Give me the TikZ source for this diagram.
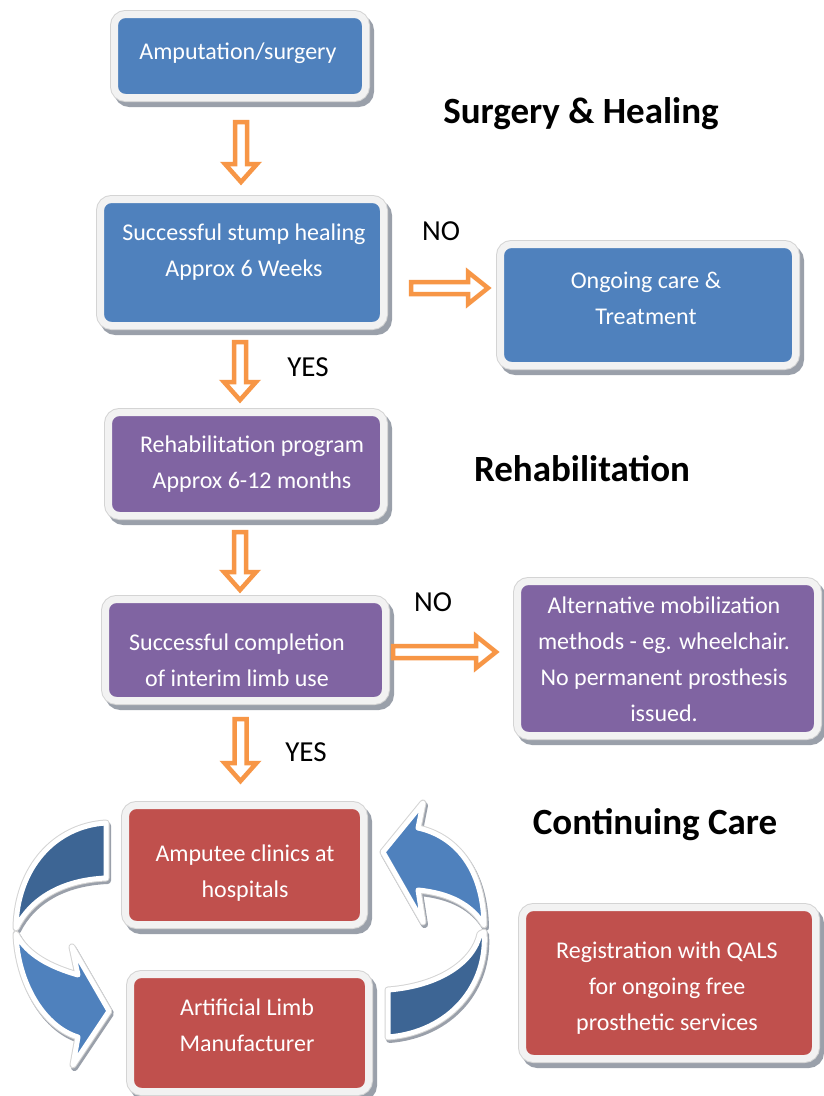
\documentclass[tikz,border=0pt]{standalone}
\usepackage{fontspec}
\setmainfont{Carlito}
\usetikzlibrary{calc,shadows}
\definecolor{cblue}{HTML}{4F81BD}
\definecolor{cpurple}{HTML}{8064A2}
\definecolor{cred}{HTML}{C0504D}
\definecolor{corange}{HTML}{F79646}
\definecolor{cdark}{HTML}{3D6594}
\definecolor{rim}{HTML}{F2F2F2}
\definecolor{rimline}{HTML}{D4D4D4}
\definecolor{shade}{HTML}{9AA0AA}
\tikzset{
  box/.style={rectangle, rounded corners=11pt, draw=rim, line width=7pt, inner sep=0pt,
    preaction={draw=shade, fill=shade, line width=9pt, transform canvas={xshift=4pt,yshift=-5pt}},
    preaction={draw=rimline, line width=9pt}},
  txt/.style={text=white, font=\fontsize{24}{36}\selectfont, align=center, inner sep=0pt},
  head/.style={font=\fontsize{37}{44}\selectfont\bfseries, inner sep=0pt},
  lab/.style={font=\fontsize{29}{34}\selectfont, inner sep=0pt},
  oarrow/.style={draw=corange, line width=4.5pt, fill=white, line join=miter},
  carrow/.style={draw=white, line width=5pt, line join=round,
    preaction={draw=shade, line width=7pt, line join=round, transform canvas={xshift=1.5pt,yshift=-2.5pt}},
    preaction={draw=rimline, line width=7pt, line join=round}}
}
\newcommand\vArrow[2]{%
  \draw[oarrow] let \p1=(#1), \p2=(#2) in
    (\x1-6pt,\y1) -- (\x1+6pt,\y1) -- (\x1+6pt,\y2+18pt) -- (\x1+16pt,\y2+18pt)
    -- (\x1,\y2) -- (\x1-16pt,\y2+18pt) -- (\x1-6pt,\y2+18pt) -- cycle;}
\newcommand\hArrow[2]{%
  \draw[oarrow] let \p1=(#1), \p2=(#2) in
    (\x1,\y1+6pt) -- (\x2-20pt,\y1+6pt) -- (\x2-20pt,\y1+16pt) -- (\x2,\y1)
    -- (\x2-20pt,\y1-16pt) -- (\x2-20pt,\y1-6pt) -- (\x1,\y1-6pt) -- cycle;}
\begin{document}
\begin{tikzpicture}[x=1pt,y=-1pt]
\useasboundingbox (0,0) rectangle (823,1096);
\fill[white] (0,0) rectangle (823,1096);

% curved arrows
\filldraw[carrow, fill=cdark] (106,823) .. controls (55,826) and (17,868) .. (16,928)
  .. controls (30,900) and (60,880) .. (106,878) -- cycle;
\filldraw[carrow, fill=cblue] (16,934) .. controls (18,985) and (45,1027) .. (78,1037)
  -- (73,1065) -- (109,1011) -- (72,947) -- (78,975) .. controls (50,967) and (27,955) .. (16,934) -- cycle;
\filldraw[carrow, fill=cblue] (383,852) -- (423,803) -- (418,828) .. controls (455,836) and (483,868) .. (484,925)
  .. controls (472,905) and (450,893) .. (418,890) -- (423,922) -- cycle;
\filldraw[carrow, fill=cdark] (484,932) .. controls (488,985) and (450,1032) .. (388,1037)
  -- (388,990) .. controls (440,986) and (474,962) .. (480,934) -- cycle;

% boxes
\node[box, fill=cblue, minimum width=251pt, minimum height=83pt] (b1) at (240,56) {};
\node[box, fill=cblue, minimum width=283pt, minimum height=126pt] (b2) at (242,262.5) {};
\node[box, fill=cblue, minimum width=295pt, minimum height=121pt] (b3) at (648,305) {};
\node[box, fill=cpurple, minimum width=275pt, minimum height=103pt] (b4) at (246,464) {};
\node[box, fill=cpurple, minimum width=280pt, minimum height=101pt] (b5) at (245.5,650) {};
\node[box, fill=cpurple, minimum width=300pt, minimum height=154pt] (b6) at (667.5,658.5) {};
\node[box, fill=cred, minimum width=238pt, minimum height=119pt] (b7) at (244.5,865) {};
\node[box, fill=cred, minimum width=238pt, minimum height=117pt] (b8) at (249.5,1033) {};
\node[box, fill=cred, minimum width=293pt, minimum height=151pt] (b9) at (669,983) {};

% texts
\node[txt] (t1) at (238,53) {Amputation/surgery};
\node[txt] (t2) at (244,252.5) {Successful stump healing\\Approx 6 Weeks};
\node[txt] (t3) at (646,298.5) {Ongoing care \&\\Treatment};
\node[txt] (t4) at (252,464.5) {Rehabilitation program\\Approx 6-12 months};
\node[txt] (t5) at (237,660.5) {Successful completion\\of interim limb use};
\node[txt] (t6) at (664,659.5) {Alternative mobilization\\methods - eg. wheelchair.\\No permanent prosthesis\\issued.};
\node[txt] (t7) at (245,873.5) {Amputee clinics at\\hospitals};
\node[txt] (t8) at (247,1025.5) {Artificial Limb\\Manufacturer};
\node[txt] (t9) at (667,988.5) {Registration with QALS\\for ongoing free\\prosthetic services};

% headings
\node[head] (h1) at (581,114) {Surgery \& Healing};
\node[head] (h2) at (582,469) {Rehabilitation};
\node[head] (h3) at (655,825) {Continuing Care};

% labels
\node[lab] (n1) at (441,231) {NO};
\node[lab] (y1) at (308,367) {YES};
\node[lab] (n2) at (433,602) {NO};
\node[lab] (y2) at (306,752) {YES};

% orange arrows
\coordinate (a1s) at ($(b1.south)+(1,21)$);
\coordinate (a1e) at ($(b2.north)+(0,-14)$);
\vArrow{a1s}{a1e}
\coordinate (a2s) at ($(b2.south)+(-2,13)$);
\coordinate (a2e) at ($(b4.north)+(0,-9)$);
\vArrow{a2s}{a2e}
\coordinate (a3s) at ($(b4.south)+(-6,13)$);
\coordinate (a3e) at ($(b5.north)+(0,-6)$);
\vArrow{a3s}{a3e}
\coordinate (a4s) at ($(b5.south)+(-5,15)$);
\coordinate (a4e) at ($(b7.north)+(0,-21)$);
\vArrow{a4s}{a4e}
\coordinate (a5s) at ($(b2.east)+(24,25.5)$);
\coordinate (a5e) at ($(b3.west)+(-9,-17)$);
\hArrow{a5s}{a5e}
\coordinate (a6s) at ($(b5.east)+(4,2)$);
\coordinate (a6e) at ($(b6.west)+(-18,-6.5)$);
\hArrow{a6s}{a6e}
\end{tikzpicture}
\end{document}
